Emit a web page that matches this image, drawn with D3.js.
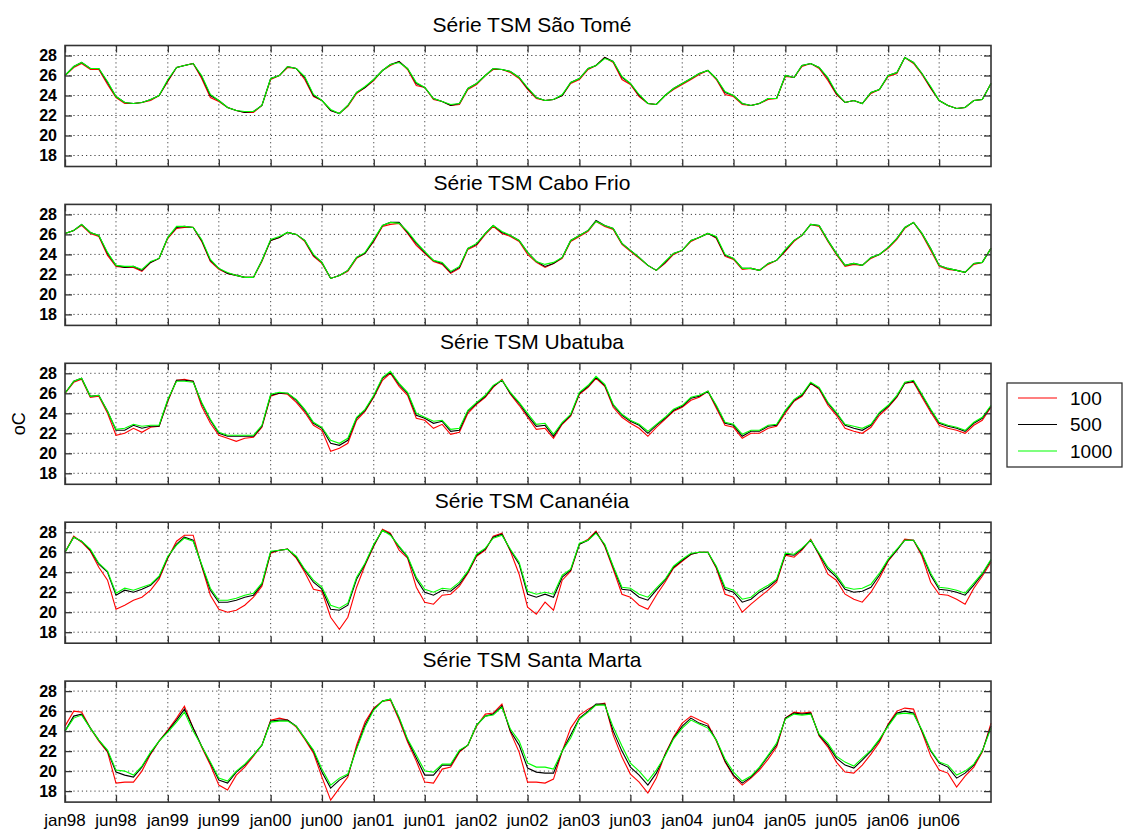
<!DOCTYPE html>
<html>
<head>
<meta charset="utf-8">
<script src="https://cdn.jsdelivr.net/npm/d3@7"></script>
<style>
    body { margin: 0; background: #fff; }
    svg { display: block; font-family: "Liberation Sans", Arial, sans-serif; }
</style>
</head>
<body>
<div id="chart"></div>
<script>
// monthly SST (oC), jan98 .. jan07, for each station at 100 / 500 / 1000
const tome100 = [26.0, 26.8, 27.2, 26.6, 26.6, 25.1, 23.8, 23.2, 23.2, 23.3, 23.5, 24.0,
    25.4, 26.8, 27.0, 27.2, 25.7, 23.8, 23.4, 22.8, 22.5, 22.3, 22.3, 23.0,
    25.6, 26.0, 26.8, 26.7, 25.6, 23.9, 23.5, 22.5, 22.2, 22.9, 24.2, 24.8,
    25.5, 26.5, 27.0, 27.4, 26.6, 25.0, 24.8, 23.6, 23.4, 23.0, 23.1, 24.6,
    25.1, 26.0, 26.6, 26.6, 26.3, 25.7, 24.6, 23.7, 23.5, 23.6, 24.0, 25.2,
    25.6, 26.6, 27.0, 27.8, 27.3, 25.6, 25.1, 23.9, 23.2, 23.1, 24.0, 24.6,
    25.1, 25.6, 26.1, 26.5, 25.6, 24.1, 23.9, 23.1, 23.0, 23.2, 23.6, 23.7,
    25.9, 25.8, 26.9, 27.2, 26.7, 25.5, 24.1, 23.3, 23.5, 23.2, 24.2, 24.6,
    25.9, 26.2, 27.8, 27.2, 26.1, 24.7, 23.5, 23.0, 22.7, 22.8, 23.5, 23.6, 25.2];
const tome500 = [26.0, 26.9, 27.3, 26.7, 26.7, 25.3, 23.9, 23.3, 23.2, 23.3, 23.6, 24.0,
    25.5, 26.8, 27.0, 27.2, 25.9, 24.0, 23.5, 22.8, 22.5, 22.3, 22.4, 23.0,
    25.7, 26.0, 26.9, 26.7, 25.8, 24.0, 23.5, 22.5, 22.2, 23.0, 24.3, 24.8,
    25.6, 26.5, 27.1, 27.4, 26.7, 25.2, 24.8, 23.7, 23.4, 23.0, 23.2, 24.7,
    25.2, 26.0, 26.7, 26.6, 26.4, 25.8, 24.7, 23.8, 23.5, 23.6, 24.0, 25.3,
    25.7, 26.7, 27.0, 27.8, 27.4, 25.8, 25.2, 24.0, 23.2, 23.1, 24.0, 24.7,
    25.2, 25.7, 26.2, 26.5, 25.7, 24.3, 24.0, 23.2, 23.0, 23.2, 23.7, 23.7,
    26.0, 25.8, 27.0, 27.2, 26.8, 25.7, 24.2, 23.3, 23.5, 23.2, 24.3, 24.6,
    26.0, 26.3, 27.8, 27.3, 26.2, 24.8, 23.5, 23.0, 22.7, 22.8, 23.5, 23.6, 25.2];
const tome1000 = [26.0, 26.9, 27.3, 26.7, 26.7, 25.4, 23.9, 23.3, 23.2, 23.3, 23.6, 24.0,
    25.6, 26.8, 27.0, 27.2, 26.0, 24.1, 23.5, 22.8, 22.5, 22.4, 22.4, 23.0,
    25.7, 26.0, 26.9, 26.7, 25.9, 24.1, 23.5, 22.6, 22.2, 23.0, 24.3, 24.9,
    25.6, 26.5, 27.1, 27.3, 26.7, 25.3, 24.8, 23.7, 23.4, 23.1, 23.2, 24.7,
    25.2, 26.0, 26.7, 26.6, 26.4, 25.8, 24.8, 23.8, 23.5, 23.6, 24.1, 25.3,
    25.7, 26.7, 27.0, 27.7, 27.4, 25.9, 25.2, 24.1, 23.2, 23.1, 24.0, 24.7,
    25.2, 25.7, 26.2, 26.5, 25.7, 24.4, 24.0, 23.2, 23.0, 23.2, 23.7, 23.7,
    26.0, 25.8, 27.0, 27.2, 26.8, 25.8, 24.3, 23.3, 23.5, 23.2, 24.3, 24.6,
    26.0, 26.3, 27.8, 27.3, 26.2, 24.9, 23.5, 23.0, 22.7, 22.8, 23.5, 23.6, 25.2];

const cabo100 = [26.1, 26.4, 26.9, 26.1, 25.8, 23.9, 22.8, 22.7, 22.7, 22.3, 23.2, 23.6,
    25.6, 26.6, 26.7, 26.7, 25.3, 23.3, 22.5, 22.1, 21.9, 21.7, 21.7, 23.3,
    25.4, 25.7, 26.2, 26.0, 25.3, 23.8, 23.1, 21.6, 21.9, 22.3, 23.6, 24.1,
    25.3, 26.8, 27.0, 27.1, 26.1, 24.9, 24.1, 23.3, 23.0, 22.1, 22.6, 24.5,
    24.9, 26.0, 26.8, 26.1, 25.8, 25.3, 24.0, 23.2, 22.7, 23.1, 23.6, 25.3,
    25.8, 26.3, 27.3, 26.8, 26.5, 25.0, 24.3, 23.6, 22.9, 22.4, 23.1, 24.0,
    24.4, 25.3, 25.7, 26.1, 25.6, 23.8, 23.5, 22.5, 22.6, 22.4, 23.0, 23.4,
    24.3, 25.3, 25.9, 27.0, 26.8, 25.3, 24.0, 22.8, 23.0, 22.9, 23.6, 24.0,
    24.6, 25.5, 26.6, 27.2, 26.0, 24.4, 22.8, 22.5, 22.4, 22.2, 23.0, 23.2, 24.6];
const cabo500 = [26.1, 26.4, 27.0, 26.2, 25.9, 24.1, 22.9, 22.7, 22.8, 22.4, 23.2, 23.6,
    25.7, 26.7, 26.8, 26.7, 25.4, 23.4, 22.6, 22.1, 21.9, 21.7, 21.7, 23.4,
    25.4, 25.7, 26.2, 26.0, 25.4, 23.9, 23.2, 21.6, 21.9, 22.4, 23.7, 24.1,
    25.4, 26.9, 27.2, 27.2, 26.2, 25.1, 24.2, 23.4, 23.1, 22.2, 22.7, 24.6,
    25.0, 26.1, 26.9, 26.2, 25.9, 25.4, 24.2, 23.3, 22.8, 23.1, 23.7, 25.4,
    25.9, 26.4, 27.4, 26.9, 26.6, 25.1, 24.4, 23.7, 22.9, 22.4, 23.2, 24.1,
    24.4, 25.4, 25.7, 26.1, 25.7, 23.9, 23.6, 22.6, 22.6, 22.4, 23.1, 23.4,
    24.4, 25.4, 25.9, 27.0, 26.9, 25.4, 24.1, 22.9, 23.1, 22.9, 23.7, 24.0,
    24.7, 25.6, 26.7, 27.2, 26.1, 24.6, 22.9, 22.6, 22.4, 22.2, 23.1, 23.2, 24.6];
const cabo1000 = [26.1, 26.4, 27.0, 26.2, 25.9, 24.2, 22.9, 22.8, 22.8, 22.5, 23.3, 23.6,
    25.7, 26.8, 26.8, 26.7, 25.5, 23.5, 22.6, 22.2, 21.9, 21.7, 21.7, 23.4,
    25.5, 25.8, 26.2, 26.0, 25.4, 24.0, 23.2, 21.6, 21.9, 22.4, 23.7, 24.2,
    25.5, 26.9, 27.2, 27.1, 26.3, 25.2, 24.3, 23.4, 23.2, 22.3, 22.8, 24.6,
    25.1, 26.1, 26.9, 26.3, 25.9, 25.4, 24.2, 23.3, 23.0, 23.2, 23.7, 25.4,
    25.9, 26.4, 27.3, 26.9, 26.6, 25.1, 24.4, 23.7, 22.9, 22.4, 23.3, 24.1,
    24.4, 25.4, 25.7, 26.1, 25.8, 24.0, 23.6, 22.6, 22.6, 22.4, 23.1, 23.4,
    24.5, 25.4, 25.9, 27.0, 26.9, 25.4, 24.1, 22.9, 23.1, 22.9, 23.7, 24.0,
    24.7, 25.6, 26.7, 27.2, 26.1, 24.6, 22.9, 22.6, 22.4, 22.2, 23.1, 23.2, 24.6];

const uba100 = [26.0, 27.1, 27.4, 25.6, 25.7, 24.0, 21.8, 22.0, 22.5, 22.1, 22.6, 22.7,
    25.2, 27.3, 27.4, 27.2, 24.7, 23.0, 21.8, 21.5, 21.2, 21.5, 21.6, 22.6,
    25.7, 26.0, 25.9, 25.1, 24.1, 22.8, 22.3, 20.2, 20.5, 21.0, 23.3, 24.2,
    25.6, 27.3, 28.0, 26.7, 25.8, 23.5, 23.3, 22.5, 22.9, 21.9, 22.1, 24.0,
    24.9, 25.6, 26.6, 27.4, 25.9, 24.8, 23.6, 22.4, 22.5, 21.5, 22.9, 23.7,
    25.9, 26.6, 27.5, 26.7, 24.6, 23.6, 23.0, 22.5, 21.7, 22.6, 23.4, 24.2,
    24.6, 25.3, 25.6, 26.2, 24.5, 22.8, 22.6, 21.5, 22.0, 22.0, 22.5, 22.7,
    24.0, 25.2, 25.7, 27.0, 26.4, 24.8, 23.8, 22.5, 22.2, 22.0, 22.6, 23.8,
    24.6, 25.6, 27.0, 27.1, 25.6, 24.1, 22.8, 22.5, 22.3, 22.0, 22.8, 23.3, 24.6];
const uba500 = [26.0, 27.2, 27.5, 25.7, 25.8, 24.2, 22.3, 22.3, 22.8, 22.5, 22.7, 22.7,
    25.3, 27.3, 27.3, 27.2, 25.0, 23.3, 22.0, 21.7, 21.7, 21.7, 21.7, 22.7,
    25.8, 26.0, 26.0, 25.3, 24.3, 23.0, 22.5, 21.0, 20.8, 21.3, 23.5, 24.3,
    25.7, 27.5, 28.1, 26.9, 26.0, 23.8, 23.5, 23.0, 23.2, 22.2, 22.3, 24.2,
    25.0, 25.7, 26.7, 27.3, 26.0, 25.0, 23.8, 22.7, 22.8, 21.7, 23.0, 23.8,
    26.0, 26.7, 27.6, 26.8, 24.8, 23.8, 23.2, 22.8, 22.0, 22.8, 23.5, 24.3,
    24.7, 25.5, 25.7, 26.2, 24.7, 23.0, 22.8, 21.7, 22.2, 22.2, 22.7, 22.8,
    24.2, 25.3, 25.8, 27.0, 26.5, 25.0, 24.0, 22.8, 22.5, 22.3, 22.8, 24.0,
    24.7, 25.7, 27.0, 27.2, 25.8, 24.3, 23.0, 22.7, 22.5, 22.2, 23.0, 23.5, 24.7];
const uba1000 = [26.0, 27.2, 27.5, 25.7, 25.8, 24.2, 22.4, 22.5, 22.9, 22.7, 22.8, 22.8,
    25.4, 27.2, 27.2, 27.1, 25.1, 23.4, 22.1, 21.8, 21.8, 21.8, 21.8, 22.8,
    25.9, 26.1, 26.0, 25.4, 24.4, 23.1, 22.6, 21.3, 21.0, 21.5, 23.6, 24.4,
    25.8, 27.6, 28.2, 27.0, 26.1, 24.0, 23.6, 23.2, 23.3, 22.4, 22.5, 24.3,
    25.1, 25.8, 26.8, 27.3, 26.1, 25.1, 24.0, 22.9, 23.0, 21.9, 23.1, 23.9,
    26.1, 26.8, 27.7, 26.9, 24.9, 23.9, 23.3, 22.9, 22.2, 22.9, 23.6, 24.4,
    24.8, 25.6, 25.8, 26.2, 24.8, 23.1, 22.9, 21.9, 22.3, 22.3, 22.8, 22.9,
    24.3, 25.4, 25.9, 27.1, 26.6, 25.1, 24.1, 22.9, 22.7, 22.5, 22.9, 24.1,
    24.8, 25.8, 27.1, 27.3, 25.9, 24.4, 23.1, 22.8, 22.6, 22.3, 23.1, 23.6, 24.8];

const cana100 = [26.0, 27.6, 27.0, 26.1, 24.5, 23.2, 20.3, 20.7, 21.2, 21.5, 22.2, 23.3,
    25.4, 27.1, 27.7, 27.7, 24.6, 21.7, 20.3, 20.0, 20.2, 20.7, 21.5, 22.6,
    25.9, 26.2, 26.3, 25.4, 24.0, 22.3, 22.1, 19.5, 18.3, 19.5, 22.5, 24.7,
    26.6, 28.3, 27.9, 26.2, 25.4, 22.5, 21.0, 20.8, 21.7, 21.8, 22.6, 23.9,
    25.6, 26.2, 27.6, 27.9, 26.1, 23.8, 20.5, 19.8, 21.0, 20.2, 23.2, 24.1,
    26.8, 27.3, 28.1, 26.6, 24.3, 21.8, 21.5, 20.7, 20.3, 21.7, 23.0, 24.4,
    25.1, 25.8, 26.0, 26.0, 24.4, 21.8, 21.5, 20.0, 20.8, 21.5, 22.2, 23.0,
    25.7, 25.5, 26.2, 27.3, 25.7, 23.8, 23.2, 21.8, 21.3, 21.0, 22.0, 23.4,
    25.1, 26.2, 27.3, 27.2, 25.6, 23.0, 21.8, 21.7, 21.3, 20.8, 22.4, 23.6, 25.0];
const cana500 = [26.0, 27.5, 27.1, 26.2, 24.8, 24.0, 21.7, 22.2, 22.0, 22.3, 22.7, 23.5,
    25.5, 26.8, 27.5, 27.2, 24.7, 22.2, 21.0, 21.0, 21.2, 21.5, 21.7, 22.8,
    26.0, 26.2, 26.3, 25.5, 24.2, 23.0, 22.3, 20.3, 20.2, 20.7, 23.3, 24.8,
    26.7, 28.2, 27.8, 26.5, 25.5, 23.3, 22.0, 21.7, 22.2, 22.1, 22.8, 24.0,
    25.7, 26.3, 27.5, 27.8, 26.2, 24.8, 21.8, 21.5, 21.8, 21.5, 23.5, 24.2,
    26.8, 27.2, 28.0, 26.7, 24.5, 22.3, 22.2, 21.5, 21.2, 22.2, 23.2, 24.5,
    25.2, 25.8, 26.0, 26.0, 24.5, 22.3, 22.0, 21.0, 21.3, 22.0, 22.5, 23.2,
    25.8, 25.7, 26.3, 27.2, 25.8, 24.3, 23.5, 22.3, 22.0, 22.1, 22.5, 23.7,
    25.2, 26.2, 27.2, 27.2, 25.8, 23.7, 22.3, 22.2, 22.0, 21.7, 22.7, 23.8, 25.2];
const cana1000 = [26.0, 27.5, 27.1, 26.3, 24.9, 24.1, 21.9, 22.4, 22.2, 22.5, 22.8, 23.6,
    25.6, 26.7, 27.4, 27.1, 24.8, 22.4, 21.2, 21.2, 21.4, 21.7, 21.9, 22.9,
    26.1, 26.2, 26.3, 25.6, 24.3, 23.2, 22.5, 20.7, 20.4, 20.9, 23.5, 24.9,
    26.8, 28.2, 27.7, 26.6, 25.6, 23.5, 22.3, 22.0, 22.4, 22.3, 23.0, 24.1,
    25.8, 26.4, 27.4, 27.7, 26.3, 25.0, 22.1, 21.8, 22.0, 21.8, 23.7, 24.3,
    26.9, 27.2, 27.9, 26.8, 24.6, 22.5, 22.4, 21.8, 21.5, 22.4, 23.3, 24.6,
    25.3, 25.9, 26.0, 26.0, 24.6, 22.5, 22.2, 21.3, 21.5, 22.2, 22.7, 23.3,
    25.9, 25.8, 26.4, 27.2, 25.9, 24.5, 23.7, 22.5, 22.3, 22.4, 22.8, 23.9,
    25.3, 26.3, 27.2, 27.2, 25.9, 23.9, 22.5, 22.4, 22.2, 21.9, 22.9, 23.9, 25.3];

const marta100 = [24.5, 26.0, 25.9, 24.3, 23.0, 21.9, 18.8, 18.9, 18.9, 20.0, 21.7, 23.0,
    24.1, 25.3, 26.5, 24.3, 22.4, 20.6, 18.6, 18.1, 19.6, 20.4, 21.5, 22.6,
    25.1, 25.3, 25.1, 24.4, 23.2, 21.8, 19.4, 17.1, 18.3, 19.4, 22.6, 24.9,
    26.3, 27.0, 27.1, 25.1, 22.9, 21.0, 18.9, 18.8, 20.2, 20.4, 21.9, 22.6,
    24.5, 25.7, 25.8, 26.7, 23.9, 21.9, 18.9, 18.9, 18.8, 19.2, 22.0, 24.3,
    25.6, 26.2, 26.6, 26.8, 23.6, 21.4, 19.7, 18.9, 17.8, 19.3, 21.7, 23.4,
    24.8, 25.5, 25.1, 24.7, 23.0, 20.9, 19.5, 18.6, 19.3, 20.1, 21.2, 22.4,
    25.3, 25.9, 25.8, 25.9, 23.5, 22.4, 20.9, 19.9, 19.8, 20.6, 21.7, 22.9,
    24.7, 26.0, 26.3, 26.2, 23.9, 21.5, 20.1, 19.8, 18.4, 19.5, 20.4, 21.9, 24.8];
const marta500 = [24.0, 25.5, 25.7, 24.3, 23.1, 22.0, 19.9, 19.6, 19.4, 20.4, 21.8, 23.0,
    24.0, 25.1, 26.2, 24.3, 22.5, 20.8, 19.1, 18.8, 19.9, 20.6, 21.6, 22.6,
    25.0, 25.1, 25.1, 24.5, 23.3, 22.0, 19.9, 18.3, 19.1, 19.6, 22.3, 24.6,
    26.2, 27.0, 27.2, 25.3, 23.1, 21.3, 19.6, 19.6, 20.6, 20.6, 22.0, 22.6,
    24.6, 25.5, 25.7, 26.5, 24.0, 22.6, 20.3, 19.9, 19.8, 19.8, 22.0, 23.6,
    25.3, 26.0, 26.7, 26.7, 24.0, 22.0, 20.4, 19.6, 18.6, 19.8, 21.6, 23.3,
    24.5, 25.3, 24.8, 24.5, 23.1, 21.0, 19.6, 18.8, 19.4, 20.3, 21.5, 22.6,
    25.3, 25.8, 25.7, 25.8, 23.6, 22.6, 21.3, 20.6, 20.3, 21.1, 22.0, 23.1,
    24.6, 25.8, 26.0, 25.8, 24.0, 22.0, 20.8, 20.4, 19.3, 19.8, 20.6, 22.0, 24.5];
const marta1000 = [24.0, 25.3, 25.6, 24.3, 23.1, 22.1, 20.1, 20.0, 19.6, 20.5, 21.9, 23.0,
    23.9, 24.9, 25.9, 24.0, 22.5, 20.9, 19.3, 19.0, 20.0, 20.7, 21.6, 22.6,
    24.9, 25.0, 25.0, 24.5, 23.3, 22.1, 20.2, 18.6, 19.3, 19.7, 22.2, 24.4,
    26.1, 27.0, 27.2, 25.4, 23.2, 21.6, 20.0, 19.9, 20.7, 20.7, 22.1, 22.6,
    24.6, 25.5, 25.6, 26.4, 24.2, 23.0, 20.8, 20.4, 20.4, 20.2, 22.0, 23.3,
    25.2, 25.9, 26.6, 26.6, 24.4, 22.5, 20.8, 20.0, 19.0, 20.1, 21.5, 23.2,
    24.3, 25.1, 24.7, 24.3, 23.1, 21.2, 19.9, 19.0, 19.5, 20.4, 21.6, 22.8,
    25.2, 25.7, 25.6, 25.7, 23.7, 22.8, 21.5, 20.9, 20.5, 21.3, 22.1, 23.2,
    24.5, 25.7, 25.8, 25.7, 24.1, 22.1, 20.9, 20.6, 19.6, 20.0, 20.7, 22.0, 24.3];

const stations = ["Série TSM São Tomé", "Série TSM Cabo Frio", "Série TSM Ubatuba",
                  "Série TSM Cananéia", "Série TSM Santa Marta"];
const depths = ["100", "500", "1000"];
const colors = ["#ff0000", "#000000", "#00ff00"];
const yTicks = [18, 20, 22, 24, 26, 28];
const xTickLabels = ["jan98", "jun98", "jan99", "jun99", "jan00", "jun00", "jan01", "jun01", "jan02",
                     "jun02", "jan03", "jun03", "jan04", "jun04", "jan05", "jun05", "jan06", "jun06"];

const series = [
    [tome100, tome500, tome1000],
    [cabo100, cabo500, cabo1000],
    [uba100, uba500, uba1000],
    [cana100, cana500, cana1000],
    [marta100, marta500, marta1000]
];

const months = d3.utcMonth.range(new Date(Date.UTC(1998, 0, 1)), new Date(Date.UTC(2007, 0, 2)));
const xTickDates = d3.utcMonth.every(6).range(new Date(Date.UTC(1998, 0, 1)), new Date(Date.UTC(2007, 0, 1)));

const width = 1125, height = 829;
const left = 65, right = 991;
const panelTop = 45.5, panelStep = 158.9, panelHeight = 121;

const svg = d3.select("#chart")
              .append("svg")
              .attr("width", width)
              .attr("height", height);

const x = d3.scaleUtc()
            .domain([months[0], months[months.length - 1]])
            .range([left, right]);

function drawPanel(i) {
    const top = panelTop + i * panelStep;
    const y = d3.scaleLinear()
                .domain([16.9, 29])
                .range([top + panelHeight, top]);

    const g = svg.append("g").attr("class", "panel");

    g.append("text")
     .attr("x", (left + right) / 2 + 4)
     .attr("y", top - 14)
     .attr("text-anchor", "middle")
     .style("font-size", "21px")
     .text(stations[i]);

    // dotted grid
    g.append("g")
     .selectAll("line.hgrid")
     .data(yTicks)
     .enter()
     .append("line")
     .attr("x1", left).attr("x2", right)
     .attr("y1", d => y(d)).attr("y2", d => y(d))
     .attr("stroke", "#444")
     .attr("stroke-width", 1)
     .attr("stroke-dasharray", "1.2,3");
    g.append("g")
     .selectAll("line.vgrid")
     .data(xTickDates.slice(1))
     .enter()
     .append("line")
     .attr("x1", d => x(d)).attr("x2", d => x(d))
     .attr("y1", top).attr("y2", top + panelHeight)
     .attr("stroke", "#444")
     .attr("stroke-width", 1)
     .attr("stroke-dasharray", "1.2,3");

    const line = d3.line()
                   .x((d, k) => x(months[k]))
                   .y(d => y(d));

    g.append("g")
     .selectAll("path")
     .data(series[i])
     .enter()
     .append("path")
     .attr("d", line)
     .attr("fill", "none")
     .attr("stroke", (d, k) => colors[k])
     .attr("stroke-width", 1.1);

    // inward ticks on all sides
    const tickLen = 7;
    g.append("g")
     .attr("transform", "translate(0," + (top + panelHeight) + ")")
     .call(d3.axisBottom(x).tickValues(xTickDates).tickSize(-tickLen).tickFormat(""));
    g.append("g")
     .attr("transform", "translate(0," + top + ")")
     .call(d3.axisTop(x).tickValues(xTickDates).tickSize(-tickLen).tickFormat(""));
    g.append("g")
     .attr("transform", "translate(" + left + ",0)")
     .call(d3.axisLeft(y).tickValues(yTicks).tickSize(-tickLen).tickFormat(""));
    g.append("g")
     .attr("transform", "translate(" + right + ",0)")
     .call(d3.axisRight(y).tickValues(yTicks).tickSize(-tickLen).tickFormat(""));
    g.selectAll(".domain").remove();
    g.selectAll(".tick line").attr("stroke", "#333").attr("stroke-width", 1.3);

    g.append("rect")
     .attr("x", left).attr("y", top)
     .attr("width", right - left).attr("height", panelHeight)
     .attr("fill", "none")
     .attr("stroke", "#333")
     .attr("stroke-width", 1.6);

    g.append("g")
     .selectAll("text.ylab")
     .data(yTicks)
     .enter()
     .append("text")
     .attr("x", left - 8)
     .attr("y", d => y(d))
     .attr("dy", "0.36em")
     .attr("text-anchor", "end")
     .style("font-size", "16px")
     .style("font-weight", "bold")
     .text(d => d);

    if (i === stations.length - 1) {
        g.append("g")
         .selectAll("text.xlab")
         .data(xTickDates)
         .enter()
         .append("text")
         .attr("x", d => x(d))
         .attr("y", top + panelHeight + 24)
         .attr("text-anchor", "middle")
         .style("font-size", "17px")
         .text((d, k) => xTickLabels[k]);
    }
}

stations.forEach((s, i) => drawPanel(i));

svg.append("text")
   .attr("transform", "translate(25," + (panelTop + 2 * panelStep + panelHeight / 2) + ")rotate(-90)")
   .attr("text-anchor", "middle")
   .style("font-size", "18px")
   .text("oC");

// legend
const legend = svg.append("g")
                  .attr("transform", "translate(1007,383)");
legend.append("rect")
      .attr("width", 115)
      .attr("height", 84)
      .attr("fill", "#fff")
      .attr("stroke", "#333")
      .attr("stroke-width", 1.3);
depths.forEach((dp, k) => {
    const cy = 15 + k * 26.5;
    legend.append("line")
          .attr("x1", 11).attr("x2", 50)
          .attr("y1", cy).attr("y2", cy)
          .attr("stroke", colors[k])
          .attr("stroke-width", 1.1);
    legend.append("text")
          .attr("x", 63)
          .attr("y", cy)
          .attr("dy", "0.36em")
          .style("font-size", "19px")
          .text(dp);
});
</script>
</body>
</html>
